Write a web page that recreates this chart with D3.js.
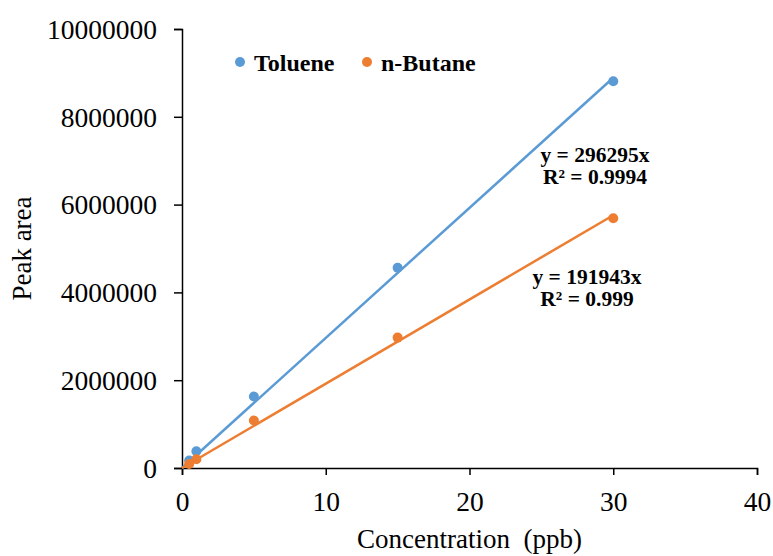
<!DOCTYPE html>
<html>
<head>
<meta charset="utf-8">
<script src="https://cdn.jsdelivr.net/npm/d3@7"></script>
<style>
  body { margin: 0; background: #fff; }
  svg text { font-family: "Liberation Serif", "Times New Roman", serif; fill: #000; }
</style>
</head>
<body>
<div id="chart"></div>
<script>
// Data
const concentrations = [0.5, 1, 5, 15, 30];
const tolueneArea = [170000, 380000, 1630000, 4560000, 8810000];
const butaneArea = [90000, 200000, 1080000, 2970000, 5690000];
const tolueneSlope = 296295, butaneSlope = 191943;
const xTicks = [0, 10, 20, 30, 40];
const yTicks = [0, 2000000, 4000000, 6000000, 8000000, 10000000];

const width = 773, height = 556;
const margin = {top: 29, right: 16, bottom: 88, left: 182};
const serif = "'Liberation Serif', 'Times New Roman', serif";

const svg = d3.select("#chart")
    .append("svg")
    .attr("width", width)
    .attr("height", height);

const x = d3.scaleLinear().domain([0, 40]).range([margin.left, width - margin.right]);
const y = d3.scaleLinear().domain([0, 10000000]).range([height - margin.bottom, margin.top]);

// Axes
const xAxis = svg.append("g")
    .attr("transform", `translate(0,${height - margin.bottom})`)
    .call(d3.axisBottom(x).tickValues(xTicks).tickSizeOuter(0).tickSize(7).tickPadding(16));
const yAxis = svg.append("g")
    .attr("transform", `translate(${margin.left},0)`)
    .call(d3.axisLeft(y).tickValues(yTicks).tickSizeOuter(0).tickSize(8).tickFormat(d3.format("d")).tickPadding(17));

[xAxis, yAxis].forEach(a => {
    a.select(".domain").attr("stroke", "#000").attr("stroke-width", 1.5);
    a.selectAll(".tick line").attr("stroke", "#000").attr("stroke-width", 1.5);
    a.selectAll(".tick text")
        .attr("font-size", "27.5px")
        .style("font-family", serif);
});
yAxis.selectAll(".tick text").attr("dy", "0.34em");

// Axis titles
svg.append("text")
    .attr("x", (margin.left + width - margin.right) / 2)
    .attr("y", 548)
    .attr("text-anchor", "middle")
    .attr("font-size", "27px")
    .style("font-family", serif)
    .style("white-space", "pre")
    .text("Concentration  (ppb)");

svg.append("text")
    .attr("transform", `translate(31,${(margin.top + height - margin.bottom) / 2}) rotate(-90)`)
    .attr("text-anchor", "middle")
    .attr("font-size", "27px")
    .style("font-family", serif)
    .text("Peak area");

// Series
const series = [
    {name: "Toluene", color: "#5B9BD5", values: tolueneArea, slope: tolueneSlope},
    {name: "n-Butane", color: "#ED7D31", values: butaneArea, slope: butaneSlope}
];

const line = d3.line().x(d => x(d[0])).y(d => y(d[1]));

series.forEach(s => {
    // linear trendline through origin, over the data range
    svg.append("path")
        .datum([[0, 0], [d3.max(concentrations), s.slope * d3.max(concentrations)]])
        .attr("d", line)
        .attr("fill", "none")
        .attr("stroke", s.color)
        .attr("stroke-width", 2.5);

    svg.append("g").selectAll("circle")
        .data(concentrations.map((c, i) => [c, s.values[i]]))
        .enter()
        .append("circle")
        .attr("cx", d => x(d[0]))
        .attr("cy", d => y(d[1]))
        .attr("r", 5)
        .attr("fill", s.color);
});

// Trendline labels
const eqLabels = [
    {lines: ["y = 296295x", "R² = 0.9994"], cx: 595, cy: 162},
    {lines: ["y = 191943x", "R² = 0.999"], cx: 587, cy: 284}
];
eqLabels.forEach(l => {
    l.lines.forEach((t, i) => {
        svg.append("text")
            .attr("x", l.cx)
            .attr("y", l.cy + i * 22)
            .attr("text-anchor", "middle")
            .attr("font-size", "21.5px")
            .attr("font-weight", "bold")
            .style("font-family", serif)
            .text(t);
    });
});

// Legend
const legend = svg.append("g").attr("transform", "translate(240,62)");
const legendX = [0, 127];
series.forEach((s, i) => {
    const g = legend.append("g").attr("transform", `translate(${legendX[i]},0)`);
    g.append("circle").attr("r", 5).attr("fill", s.color);
    g.append("text")
        .attr("x", 14)
        .attr("y", 9)
        .attr("font-size", "24px")
        .attr("font-weight", "bold")
        .style("font-family", serif)
        .text(s.name);
});
</script>
</body>
</html>
